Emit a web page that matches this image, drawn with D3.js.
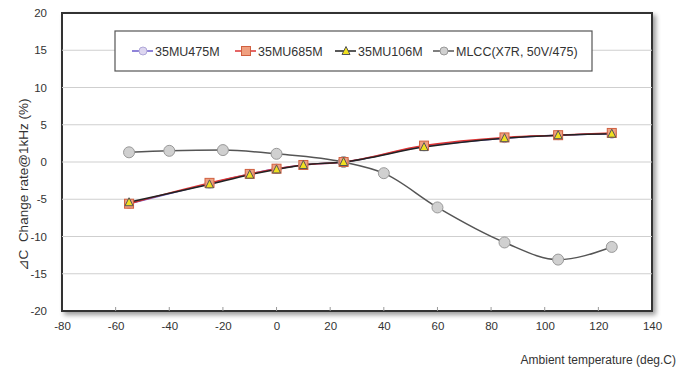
<!DOCTYPE html>
<html><head><meta charset="utf-8">
<script src="https://cdn.jsdelivr.net/npm/d3@7"></script>
<style>body{margin:0;background:#fff;} svg{display:block;font-family:"Liberation Sans",Arial,sans-serif;}</style>
</head><body>
<svg id="c" width="691" height="367"></svg>
<script>
const xTicks = [-80,-60,-40,-20,0,20,40,60,80,100,120,140];
const yTicks = [-20,-15,-10,-5,0,5,10,15,20];
const muTemps = [-55,-25,-10,0,10,25,55,85,105,125];
const mu475 = [-5.6,-2.9,-1.6,-0.9,-0.4,0,2.1,3.2,3.6,3.8];
const mu685 = [-5.6,-2.8,-1.6,-0.9,-0.4,0,2.2,3.3,3.6,3.9];
const mu106 = [-5.4,-3.0,-1.7,-1.0,-0.4,0,2.0,3.2,3.6,3.8];
const mlccTemps = [-55,-40,-20,0,25,40,60,85,105,125];
const mlcc = [1.3,1.5,1.6,1.1,0,-1.5,-6.1,-10.8,-13.1,-11.4];
const seriesNames = ["35MU475M","35MU685M","35MU106M","MLCC(X7R, 50V/475)"];

const svg = d3.select("#c");
const L=62,R=652,T=13,B=311;
const x = d3.scaleLinear().domain([-80,140]).range([L,R]);
const y = d3.scaleLinear().domain([-20,20]).range([B,T]);
const fmt = d => String(d).replace("\u2212","-");

const defs = svg.append("defs");
const f = defs.append("filter").attr("id","sh").attr("x","-5%").attr("y","-5%").attr("width","115%").attr("height","115%");
f.append("feGaussianBlur").attr("in","SourceAlpha").attr("stdDeviation",2.5);
f.append("feOffset").attr("dx",3).attr("dy",3).attr("result","b");
f.append("feComponentTransfer").append("feFuncA").attr("type","linear").attr("slope",0.4);
const fm = f.append("feMerge"); fm.append("feMergeNode"); fm.append("feMergeNode").attr("in","SourceGraphic");

svg.append("rect").attr("x",L).attr("y",T).attr("width",R-L).attr("height",B-T)
  .attr("fill","#fff").attr("stroke","#333").attr("stroke-width",2).attr("filter","url(#sh)");

svg.append("g").selectAll("line").data(yTicks.filter(d=>d>-20&&d<20)).join("line")
  .attr("x1",L).attr("x2",R).attr("y1",d=>y(d)).attr("y2",d=>y(d))
  .attr("stroke","#cfcfcf").attr("stroke-width",1.2);

svg.append("g").selectAll("line").data(xTicks.slice(1,-1)).join("line")
  .attr("x1",d=>x(d)).attr("x2",d=>x(d)).attr("y1",B).attr("y2",B-4)
  .attr("stroke","#999").attr("stroke-width",1);

const xa = svg.append("g").attr("transform",`translate(0,${B+8})`)
  .call(d3.axisBottom(x).tickValues(xTicks).tickSize(0).tickFormat(d=>fmt(d)));
xa.select(".domain").remove();
xa.selectAll("text").attr("font-size",11.5).attr("fill","#333").attr("font-family","Liberation Sans, Arial, sans-serif");
const ya = svg.append("g").attr("transform",`translate(${L-12},0)`)
  .call(d3.axisLeft(y).tickValues(yTicks).tickSize(0).tickFormat(d=>fmt(d)));
ya.select(".domain").remove();
ya.selectAll("text").attr("font-size",11.5).attr("fill","#333").attr("font-family","Liberation Sans, Arial, sans-serif");

svg.append("text").attr("transform",`translate(23,185) rotate(-90)`)
  .attr("text-anchor","middle").attr("dy","0.35em").attr("font-size",13.5).attr("fill","#333")
  .style("white-space","pre").attr("xml:space","preserve")
  .text("⊿C  Change rate@1kHz (%)");
svg.append("text").attr("x",676).attr("y",364).attr("text-anchor","end")
  .attr("font-size",12).attr("fill","#333").text("Ambient temperature (deg.C)");

const line = d3.line().x(d=>x(d[0])).y(d=>y(d[1])).curve(d3.curveMonotoneX);
const series = [
  {name:seriesNames[3], xs:mlccTemps, ys:mlcc, color:"#555", mark:"circle", fill:"#d0d0d0", mstroke:"#999", r:5.5},
  {name:seriesNames[0], xs:muTemps, ys:mu475, color:"#6a5acd", mark:"circle", fill:"#ddd6f0", mstroke:"#b0a8d8", r:4.5},
  {name:seriesNames[1], xs:muTemps, ys:mu685, color:"#d33", mark:"square", fill:"#f0a080", mstroke:"#d06040"},
  {name:seriesNames[2], xs:muTemps, ys:mu106, color:"#222", mark:"triangle", fill:"#f0e020", mstroke:"#555"}
];
series.forEach(s=>{
  const pts = s.xs.map((t,i)=>[t,s.ys[i]]);
  svg.append("path").datum(pts).attr("d",line).attr("fill","none").attr("stroke",s.color).attr("stroke-width",1.5);
});
function marker(g,s,cx,cy,r){
  if(s.mark==="circle") g.append("circle").attr("cx",cx).attr("cy",cy).attr("r",r).attr("fill",s.fill).attr("stroke",s.mstroke).attr("stroke-width",1);
  else if(s.mark==="square") g.append("rect").attr("x",cx-4.5).attr("y",cy-4.5).attr("width",9).attr("height",9).attr("fill",s.fill).attr("stroke",s.mstroke).attr("stroke-width",1);
  else g.append("path").attr("d",`M${cx},${cy-4.5}L${cx+4},${cy+3.5}L${cx-4},${cy+3.5}Z`).attr("fill",s.fill).attr("stroke",s.mstroke).attr("stroke-width",1);
}
series.forEach(s=>{
  const g = svg.append("g");
  s.xs.forEach((t,i)=>marker(g,s,x(t),y(s.ys[i]),s.r));
});

svg.append("rect").attr("x",115).attr("y",31).attr("width",477).attr("height",40)
  .attr("fill","#fff").attr("stroke","#555").attr("stroke-width",1.2);
const legX = [132,235,335,433];
const order = [series[1],series[2],series[3],series[0]];
order.forEach((s,i)=>{
  const g = svg.append("g");
  const lx = legX[i], ly=51;
  g.append("line").attr("x1",lx).attr("x2",lx+21).attr("y1",ly).attr("y2",ly).attr("stroke",s.color).attr("stroke-width",1.5);
  marker(g,s,lx+11,ly,4);
  g.append("text").attr("x",lx+23).attr("y",ly+4.5).attr("font-size",12.5).attr("fill","#333").text(s.name);
});
</script>
</body></html>
